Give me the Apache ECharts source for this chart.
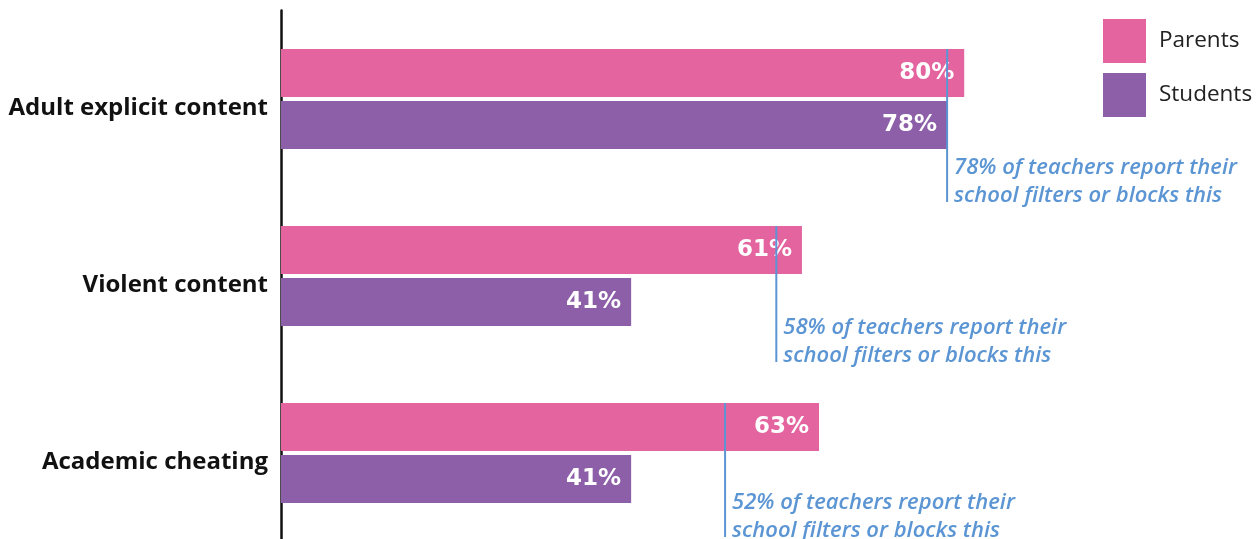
<!DOCTYPE html>
<html>
<head>
<meta charset="utf-8">
<script src="https://cdn.jsdelivr.net/npm/echarts@6/dist/echarts.min.js"></script>
<style>
html,body{margin:0;padding:0;background:#fff;}
#chart{width:1256px;height:539px;}
</style>
</head>
<body>
<div id="chart"></div>
<script>
const categories = ['Adult explicit content', 'Violent content', 'Academic cheating'];
const parents = [80, 61, 63];
const students = [78, 41, 41];
const teachers = [78, 58, 52];

const PINK = '#e3649f';
const PURPLE = '#8c5fa8';
const BLUE = '#5b95d3';
const FONT = '"Open Sans", sans-serif';
const BAR_W = 48;
const annotDrop = [103, 86, 84];

const chart = echarts.init(document.getElementById('chart'));
chart.setOption({
  animation: false,
  textStyle: { fontFamily: FONT },
  legend: {
    orient: 'vertical', left: 1098, top: 14,
    itemWidth: 43, itemHeight: 44, itemGap: 10,
    icon: 'rect',
    textStyle: { fontSize: 22.5, color: '#222', fontFamily: FONT, padding: [0, 0, 0, 8] },
    data: ['Parents', 'Students']
  },
  grid: { left: 281, width: 854, top: 10.5, height: 531, outerBoundsMode: 'none', containLabel: false },
  xAxis: { type: 'value', min: 0, max: 100, show: false },
  yAxis: {
    type: 'category', data: categories, inverse: true,
    axisLine: { show: true, lineStyle: { color: '#111', width: 2.5 } },
    axisTick: { show: false },
    axisLabel: { fontSize: 24, fontWeight: 'bold', color: '#111', margin: 13, fontFamily: FONT,
      verticalAlign: 'top', lineHeight: 18 }
  },
  series: [
    {
      name: 'Parents', type: 'bar', data: parents, barWidth: BAR_W, barGap: '8%',
      itemStyle: { color: PINK },
      label: { show: true, position: 'insideRight', distance: 10, formatter: '{c}%',
        color: '#fff', fontSize: 23, fontWeight: 'bold', fontFamily: '"DejaVu Sans", sans-serif' }
    },
    {
      name: 'Students', type: 'bar', data: students, barWidth: BAR_W, barGap: '8%',
      itemStyle: { color: PURPLE },
      label: { show: true, position: 'insideRight', distance: 10, formatter: '{c}%',
        color: '#fff', fontSize: 23, fontWeight: 'bold', fontFamily: '"DejaVu Sans", sans-serif' }
    },
    {
      name: 'Teachers', type: 'custom', z: 10, clip: false,
      data: teachers.map((v, i) => [v, i]),
      encode: { x: 0, y: 1 },
      renderItem: function (params, api) {
        const v = api.value(0), idx = api.value(1);
        const p = api.coord([v, idx]);
        const top = p[1] - BAR_W - 2;
        const bottom = p[1] + annotDrop[idx];
        return {
          type: 'group',
          children: [
            { type: 'line', shape: { x1: p[0], y1: top, x2: p[0], y2: bottom },
              style: { stroke: BLUE, lineWidth: 2 } },
            { type: 'text', x: p[0] + 7, y: bottom + 8,
              style: {
                text: v + '% of teachers report their\nschool filters or blocks this',
                fill: BLUE, font: 'italic 600 22px ' + FONT, lineHeight: 28,
                textAlign: 'left', textVerticalAlign: 'bottom'
              } }
          ]
        };
      }
    }
  ]
});
</script>
</body>
</html>
